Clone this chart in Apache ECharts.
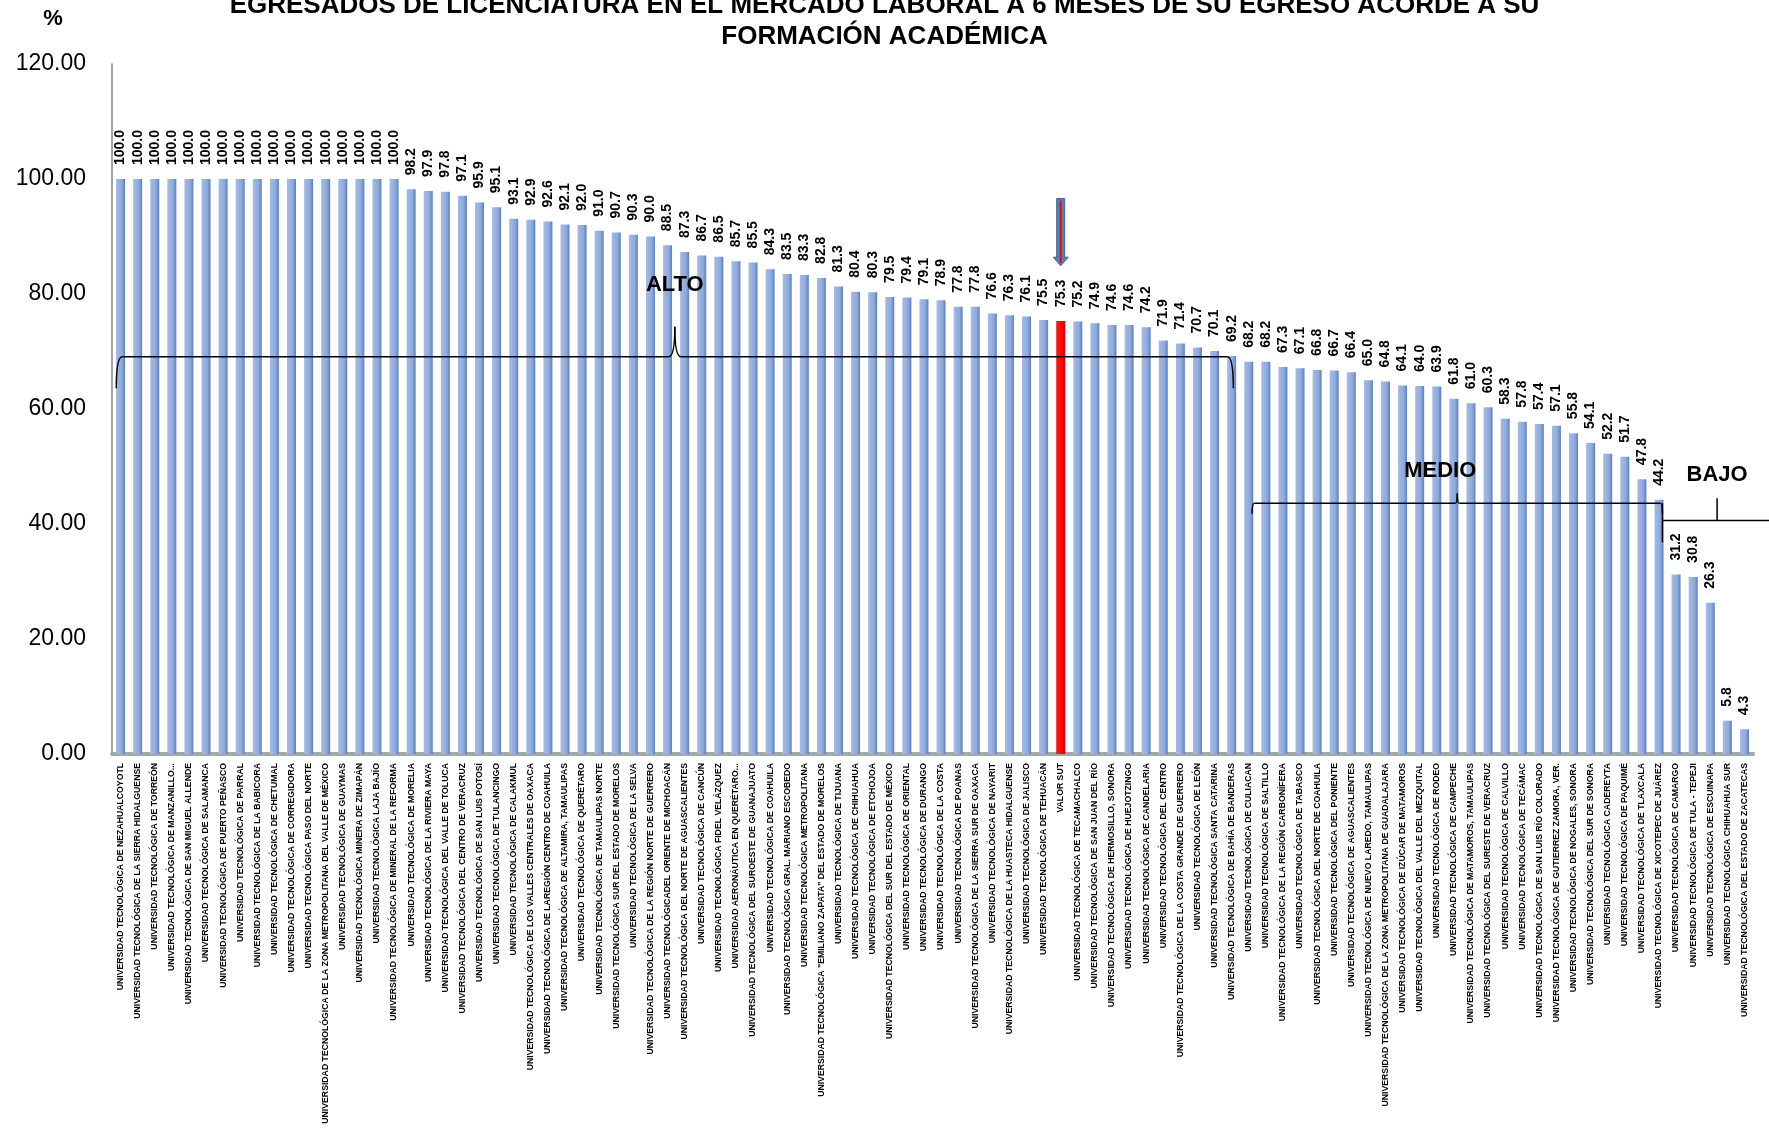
<!DOCTYPE html>
<html>
<head>
<meta charset="utf-8">
<script src="https://cdn.jsdelivr.net/npm/echarts@6/dist/echarts.min.js"></script>
<style>
html,body{margin:0;padding:0;background:#fff;}
#c{width:1769px;height:1131px;}
</style>
</head>
<body>
<div id="c"></div>
<script>
const titleLines = [
  'EGRESADOS DE LICENCIATURA EN EL MERCADO LABORAL A 6 MESES DE SU EGRESO ACORDE A SU',
  'FORMACIÓN ACADÉMICA'
];
const yUnit = '%';
const highlightName = 'VALOR SUT';
const categories = [
  'UNIVERSIDAD TECNOLÓGICA DE NEZAHUALCOYOTL',
  'UNIVERSIDAD TECNOLÓGICA DE LA SIERRA HIDALGUENSE',
  'UNIVERSIDAD TECNOLÓGICA DE TORREÓN',
  'UNIVERSIDAD TECNOLÓGICA DE MANZANILLO...',
  'UNIVERSIDAD TECNOLÓGICA DE SAN MIGUEL ALLENDE',
  'UNIVERSIDAD TECNOLÓGICA DE SALAMANCA',
  'UNIVERSIDAD TECNOLÓGICA DE PUERTO PEÑASCO',
  'UNIVERSIDAD TECNOLÓGICA DE PARRAL',
  'UNIVERSIDAD TECNOLÓGICA DE LA BABICORA',
  'UNIVERSIDAD TECNOLÓGICA DE CHETUMAL',
  'UNIVERSIDAD TECNOLÓGICA DE CORREGIDORA',
  'UNIVERSIDAD TECNOLÓGICA PASO DEL NORTE',
  'UNIVERSIDAD TECNOLÓGICA DE LA ZONA METROPOLITANA DEL VALLE DE MÉXICO',
  'UNIVERSIDAD TECNOLÓGICA DE GUAYMAS',
  'UNIVERSIDAD TECNOLÓGICA MINERA DE ZIMAPÁN',
  'UNIVERSIDAD TECNOLÓGICA LAJA BAJÍO',
  'UNIVERSIDAD TECNOLÓGICA DE MINERAL DE LA REFORMA',
  'UNIVERSIDAD TECNOLÓGICA DE MORELIA',
  'UNIVERSIDAD TECNOLÓGICA DE LA RIVIERA MAYA',
  'UNIVERSIDAD TECNOLÓGICA DEL VALLE DE TOLUCA',
  'UNIVERSIDAD TECNOLÓGICA DEL CENTRO DE VERACRUZ',
  'UNIVERSIDAD TECNOLÓGICA DE SAN LUIS POTOSÍ',
  'UNIVERSIDAD TECNOLÓGICA DE TULANCINGO',
  'UNIVERSIDAD TECNOLÓGICA DE CALAKMUL',
  'UNIVERSIDAD TECNOLÓGICA DE LOS VALLES CENTRALES DE OAXACA',
  'UNIVERSIDAD TECNOLÓGICA DE LAREGIÓN CENTRO DE COAHUILA',
  'UNIVERSIDAD TECNOLÓGICA DE ALTAMIRA, TAMAULIPAS',
  'UNIVERSIDAD TECNOLÓGICA DE QUERÉTARO',
  'UNIVERSIDAD TECNOLÓGICA DE TAMAULIPAS NORTE',
  'UNIVERSIDAD TECNOLÓGICA SUR DEL ESTADO DE MORELOS',
  'UNIVERSIDAD TECNOLÓGICA DE LA SELVA',
  'UNIVERSIDAD TECNOLÓGICA DE LA REGIÓN NORTE DE GUERRERO',
  'UNIVERSIDAD TECNOLÓGICADEL ORIENTE DE MICHOACÁN',
  'UNIVERSIDAD TECNOLÓGICA DEL NORTE DE AGUASCALIENTES',
  'UNIVERSIDAD TECNOLÓGICA DE CANCÚN',
  'UNIVERSIDAD TECNOLÓGICA FIDEL VELÁZQUEZ',
  'UNIVERSIDAD AERONÁUTICA EN QUERÉTARO...',
  'UNIVERSIDAD TECNOLÓGICA DEL SUROESTE DE GUANAJUATO',
  'UNIVERSIDAD TECNOLÓGICA DE COAHUILA',
  'UNIVERSIDAD TECNOLÓGICA GRAL. MARIANO ESCOBEDO',
  'UNIVERSIDAD TECNOLÓGICA METROPOLITANA',
  'UNIVERSIDAD TECNOLÓGICA "EMILIANO ZAPATA" DEL ESTADO DE MORELOS',
  'UNIVERSIDAD TECNOLÓGICA DE TIJUANA',
  'UNIVERSIDAD TECNOLÓGICA DE CHIHUAHUA',
  'UNIVERSIDAD TECNOLÓGICA DE ETCHOJOA',
  'UNIVERSIDAD TECNOLÓGICA DEL SUR DEL ESTADO DE MÉXICO',
  'UNIVERSIDAD TECNOLÓGICA DE ORIENTAL',
  'UNIVERSIDAD TECNOLÓGICA DE DURANGO',
  'UNIVERSIDAD TECNOLÓGICA DE LA COSTA',
  'UNIVERSIDAD TECNOLÓGICA DE POANAS',
  'UNIVERSIDAD TECNOLÓGICA DE LA SIERRA SUR DE OAXACA',
  'UNIVERSIDAD TECNOLÓGICA DE NAYARIT',
  'UNIVERSIDAD TECNOLÓGICA DE LA HUASTECA HIDALGUENSE',
  'UNIVERSIDAD TECNOLÓGICA DE JALISCO',
  'UNIVERSIDAD TECNOLÓGICA DE TEHUACÁN',
  'VALOR SUT',
  'UNIVERSIDAD TECNOLÓGICA DE TECAMACHALCO',
  'UNIVERSIDAD TECNOLÓGICA DE SAN JUAN DEL RÍO',
  'UNIVERSIDAD TECNOLÓGICA DE HERMOSILLO, SONORA',
  'UNIVERSIDAD TECNOLÓGICA DE HUEJOTZINGO',
  'UNIVERSIDAD TECNOLÓGICA DE CANDELARIA',
  'UNIVERSIDAD TECNOLÓGICA DEL CENTRO',
  'UNIVERSIDAD TECNOLÓGICA DE LA COSTA GRANDE DE GUERRERO',
  'UNIVERSIDAD TECNOLÓGICA DE LEÓN',
  'UNIVERSIDAD TECNOLÓGICA SANTA CATARINA',
  'UNIVERSIDAD TECNOLÓGICA DE BAHÍA DE BANDERAS',
  'UNIVERSIDAD TECNOLÓGICA DE CULIACAN',
  'UNIVERSIDAD TECNOLÓGICA DE SALTILLO',
  'UNIVERSIDAD TECNOLÓGICA DE LA REGIÓN CARBONÍFERA',
  'UNIVERSIDAD TECNOLÓGICA DE TABASCO',
  'UNIVERSIDAD TECNOLÓGICA DEL NORTE DE COAHUILA',
  'UNIVERSIDAD TECNOLÓGICA DEL PONIENTE',
  'UNIVERSIDAD TECNOLÓGICA DE AGUASCALIENTES',
  'UNIVERSIDAD TECNOLÓGICA DE NUEVO LAREDO, TAMAULIPAS',
  'UNIVERSIDAD TECNOLÓGICA DE LA ZONA METROPOLITANA DE GUADALAJARA',
  'UNIVERSIDAD TECNOLÓGICA DE IZÚCAR DE MATAMOROS',
  'UNIVERSIDAD TECNOLÓGICA DEL VALLE DEL MEZQUITAL',
  'UNIVERSIDAD TECNOLÓGICA DE RODEO',
  'UNIVERSIDAD TECNOLÓGICA DE CAMPECHE',
  'UNIVERSIDAD TECNOLÓGICA DE MATAMOROS, TAMAULIPAS',
  'UNIVERSIDAD TECNOLÓGICA DEL SURESTE DE VERACRUZ',
  'UNIVERSIDAD TECNOLÓGICA DE CALVILLO',
  'UNIVERSIDAD TECNOLÓGICA DE TECÁMAC',
  'UNIVERSIDAD TECNOLÓGICA DE SAN LUIS RÍO COLORADO',
  'UNIVERSIDAD TECNOLÓGICA DE GUTIERREZ ZAMORA, VER.',
  'UNIVERSIDAD TECNOLÓGICA DE NOGALES, SONORA',
  'UNIVERSIDAD TECNOLÓGICA DEL SUR DE SONORA',
  'UNIVERSIDAD TECNOLÓGICA CADEREYTA',
  'UNIVERSIDAD TECNOLÓGICA DE PAQUIMÉ',
  'UNIVERSIDAD TECNOLÓGICA DE TLAXCALA',
  'UNIVERSIDAD TECNOLÓGICA DE XICOTEPEC DE JUÁREZ',
  'UNIVERSIDAD TECNOLÓGICA DE CAMARGO',
  'UNIVERSIDAD TECNOLÓGICA DE TULA - TEPEJI',
  'UNIVERSIDAD TECNOLÓGICA DE ESCUINAPA',
  'UNIVERSIDAD TECNOLÓGICA CHIHUAHUA SUR',
  'UNIVERSIDAD TECNOLÓGICA DEL ESTADO DE ZACATECAS'
];
const values = [
  100.0, 100.0, 100.0, 100.0, 100.0, 100.0, 100.0, 100.0, 100.0, 100.0,
  100.0, 100.0, 100.0, 100.0, 100.0, 100.0, 100.0, 98.2, 97.9, 97.8,
  97.1, 95.9, 95.1, 93.1, 92.9, 92.6, 92.1, 92.0, 91.0, 90.7,
  90.3, 90.0, 88.5, 87.3, 86.7, 86.5, 85.7, 85.5, 84.3, 83.5,
  83.3, 82.8, 81.3, 80.4, 80.3, 79.5, 79.4, 79.1, 78.9, 77.8,
  77.8, 76.6, 76.3, 76.1, 75.5, 75.3, 75.2, 74.9, 74.6, 74.6,
  74.2, 71.9, 71.4, 70.7, 70.1, 69.2, 68.2, 68.2, 67.3, 67.1,
  66.8, 66.7, 66.4, 65.0, 64.8, 64.1, 64.0, 63.9, 61.8, 61.0,
  60.3, 58.3, 57.8, 57.4, 57.1, 55.8, 54.1, 52.2, 51.7, 47.8,
  44.2, 31.2, 30.8, 26.3, 5.8, 4.3
];
const yMin = 0, yMax = 120, yStep = 20;
// group annotations: name, first category index, last category index
const groupNames = ['ALTO', 'MEDIO', 'BAJO'];
const groupFirst = [0, 66, 91];
const groupLast = [65, 90, 95];

const FONT = 'Liberation Sans, Arial, sans-serif';
const chart = echarts.init(document.getElementById('c'));

const blueBar = new echarts.graphic.LinearGradient(0, 0, 1, 0, [
  {offset: 0, color: '#A3BCE8'},
  {offset: 0.65, color: '#8DA9DC'},
  {offset: 1, color: '#5E7DB5'}
]);
const redBar = new echarts.graphic.LinearGradient(0, 0, 1, 0, [
  {offset: 0, color: '#FF1A1A'},
  {offset: 0.7, color: '#FF0000'},
  {offset: 1, color: '#C00000'}
]);

const option = {
  animation: false,
  backgroundColor: '#fff',
  textStyle: {fontFamily: FONT},
  title: {
    text: titleLines.join('\n'),
    left: 'center',
    top: -15,
    textStyle: {fontSize: 26, fontWeight: 'bold', color: '#000', lineHeight: 31, fontFamily: FONT}
  },
  grid: {left: 112, right: 16, top: 64, bottom: 377, containLabel: false, outerBoundsMode: 'none'},
  xAxis: {
    type: 'category',
    data: categories,
    axisTick: {show: false},
    axisLine: {lineStyle: {color: '#A6A6A6', width: 4}},
    axisLabel: {
      interval: 0, rotate: 90, fontSize: 8.7, fontWeight: 'bold', color: '#000',
      margin: 9, fontFamily: FONT
    }
  },
  yAxis: {
    type: 'value', min: yMin, max: yMax, interval: yStep,
    splitLine: {show: false},
    axisLine: {show: true, lineStyle: {color: '#868686', width: 1.5}},
    axisTick: {show: false},
    axisLabel: {formatter: v => v.toFixed(2), fontSize: 23, color: '#000', margin: 26, fontFamily: FONT}
  },
  series: [{
    type: 'bar',
    barWidth: 9,
    data: values.map((v, i) => categories[i] === highlightName
      ? {value: v, itemStyle: {color: redBar}}
      : {value: v}),
    itemStyle: {color: blueBar},
    label: {
      show: true, position: 'top', rotate: 90, align: 'left', verticalAlign: 'middle',
      distance: 14, formatter: p => p.value.toFixed(1),
      fontSize: 14, fontWeight: 'bold', color: '#000', fontFamily: FONT
    }
  }]
};
chart.setOption(option);

// ---- annotations placed through the chart's own axes ----
const P = (i, v) => chart.convertToPixel({xAxisIndex: 0, yAxisIndex: 0}, [i, v]);
const band = P(1, 0)[0] - P(0, 0)[0];
const yPx = v => P(0, v)[1];
const LS = {stroke: '#000', lineWidth: 1.5, fill: null};
const ZZ = 100;

function curve(xa, ya, xb, yb, cx, cy) {
  return {type: 'bezierCurve', z: ZZ, shape: {x1: xa, y1: ya, x2: xb, y2: yb, cpx1: cx, cpy1: cy}, style: LS};
}
function seg(xa, ya, xb, yb) {
  return {type: 'line', z: ZZ, shape: {x1: xa, y1: ya, x2: xb, y2: yb}, style: LS};
}
function brace(x0, x1, xm, yL, yE, yT, r) {
  return [
    curve(x0, yE, x0 + r, yL, x0, yL),
    seg(x0 + r, yL, xm - r, yL),
    curve(xm - r, yL, xm, yT, xm, yL),
    curve(xm, yT, xm + r, yL, xm, yL),
    seg(xm + r, yL, x1 - r, yL),
    curve(x1 - r, yL, x1, yE, x1, yL)
  ];
}
function label(text, x, y) {
  return {type: 'text', z: ZZ, x: x, y: y, style: {text: text, font: 'bold 22px ' + FONT,
    fill: '#000', align: 'center', verticalAlign: 'middle'}};
}
let graphics = [];
// ALTO brace
{
  const x0 = P(groupFirst[0], 0)[0] - band * 0.25;
  const x1 = P(groupLast[0], 0)[0] + band * 0.1;
  const xm = (x0 + x1) / 2;
  graphics = graphics.concat(brace(x0, x1, xm, yPx(69.1), yPx(63.6), yPx(74.3), 6));
  graphics.push(label(groupNames[0], xm, yPx(81.6)));
}
// MEDIO brace
{
  const x0 = P(groupFirst[1], 0)[0] + band * 0.2;
  const x1 = P(groupLast[1], 0)[0] + band * 0.2;
  const xm = (x0 + x1) / 2;
  graphics = graphics.concat(brace(x0, x1, xm, yPx(43.6), yPx(41.8), yPx(45.3), 2));
  graphics.push(label(groupNames[1], xm - band, yPx(49.3)));
}
// BAJO brace
{
  const x0 = P(groupFirst[2], 0)[0] - band * 0.8;
  const x1 = P(groupLast[2], 0)[0] + band * 1.6;
  const xm = (x0 + x1) / 2;
  const yL = yPx(40.6);
  graphics.push(seg(x0, yPx(43.6), x0, yPx(36.8)));
  graphics.push(seg(x0, yL, x1, yL));
  graphics.push(seg(xm, yL, xm, yPx(44.5)));
  graphics.push(label(groupNames[2], xm, yPx(48.5)));
}
// arrow pointing to highlighted bar
{
  const hi = categories.indexOf(highlightName);
  const xc = P(hi, 0)[0];
  const yTop = yPx(96.6), yHead = yPx(86.4), yTip = yPx(84.9);
  const sw = 4, hw = 7.5;
  graphics.push({type: 'polygon', z: ZZ, shape: {points: [
    [xc - sw, yTop], [xc + sw, yTop], [xc + sw, yHead], [xc + hw, yHead], [xc, yTip],
    [xc - hw, yHead], [xc - sw, yHead]]},
    style: {fill: '#4F81BD', stroke: '#3A6496', lineWidth: 1}});
  graphics.push({type: 'line', z: ZZ + 1, shape: {x1: xc, y1: yTop + 2, x2: xc, y2: yTip - 3},
    style: {stroke: '#FF0000', lineWidth: 2}});
}
// unit label
graphics.push({type: 'text', z: ZZ, x: 53, y: 19, style: {text: yUnit, font: 'bold 22px ' + FONT, fill: '#000',
  align: 'center', verticalAlign: 'middle'}});

chart.setOption({graphic: graphics});
</script>
</body>
</html>
